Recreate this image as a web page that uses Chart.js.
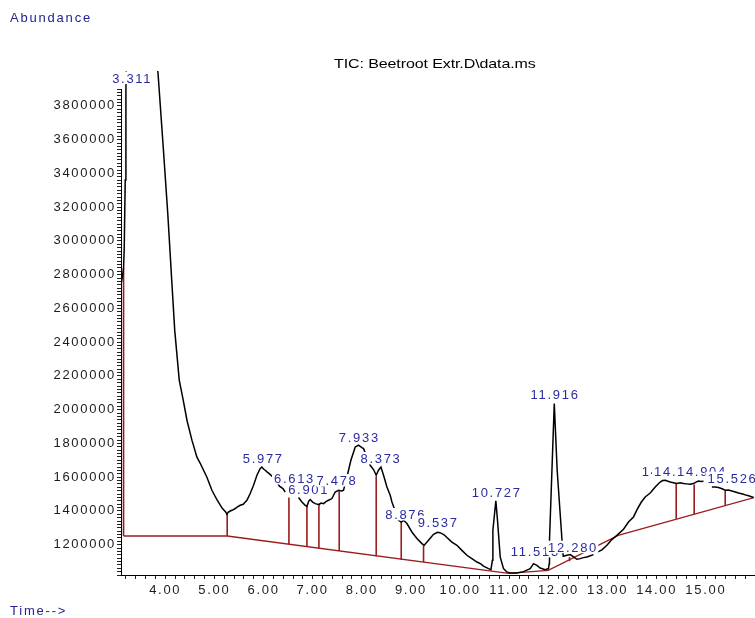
<!DOCTYPE html>
<html lang="en">
<head>
<meta charset="UTF-8">
<title>TIC: Beetroot Extr.D\data.ms</title>
<script src="https://cdn.jsdelivr.net/npm/chart.js"></script>
<style>
  body { margin: 0; background: #fff; overflow: hidden; }
  #wrap { position: relative; width: 755px; height: 618px; }
  canvas { position: absolute; left: 0; top: 0; }
  .txt { position: absolute; font-family: "Liberation Sans", Arial, sans-serif; white-space: nowrap; }
  .blue { color: #23238f; font-size: 13px; line-height: 13px; letter-spacing: 1.8px; }
  #title { left: 334px; top: 56px; font-size: 16px; line-height: 16px; color: #000; transform: scaleY(0.8); letter-spacing: -0.1px; }
</style>
</head>
<body>
<div id="wrap">
  <canvas id="tic" width="755" height="618"></canvas>
  <div class="txt blue" style="left:10px; top:11px;">Abundance</div>
  <div class="txt blue" style="left:10px; top:604px;">Time--&gt;</div>
  <div class="txt" id="title">TIC: Beetroot Extr.D\data.ms</div>
</div>

<script>
// total ion chromatogram (null = gap in the trace)
const traceTimes = [
  3.109, 3.130, 3.152, 3.166, 3.186, 3.200, 3.217, 3.311, 3.450, 3.620, 3.780, 3.853,
  3.959, 4.051, 4.132, 4.193, 4.285, 4.366, 4.442, 4.543, 4.645, 4.712, 4.848, 4.950,
  5.058, 5.160, 5.230, 5.255, 5.280, 5.322, 5.370, 5.424, 5.470, 5.526, 5.587, 5.620, 5.662, 5.729, 5.797, 5.866, 5.933,
  5.965, 6.000, 6.035, 6.069, 6.116, 6.218, 6.325, 6.394, 6.441, 6.550,
  6.712, 6.781, 6.848, 6.883, 6.920, 6.950, 7.000, 7.052, 7.127, 7.170, 7.221, 7.270, 7.323, 7.392, 7.459,
  7.526, 7.595, 7.628, 7.697, 7.778, 7.866, 7.933, 8.003, 8.035, 8.171, 8.238, 8.293,
  8.340, 8.389, 8.442, 8.511, 8.578, 8.613, 8.747, 8.802, 8.848, 8.918, 9.019, 9.121,
  9.223, 9.270, 9.357, 9.459, 9.540, 9.590, 9.630, 9.680, 9.732, 9.833, 9.935, 10.037, 10.138, 10.240,
  10.342, 10.420, 10.476, 10.578, 10.627, 10.657, 10.667, 10.727, 10.761, 10.816, 10.883, 10.952, 11.019,
  11.156, 11.290, 11.426, 11.494, 11.563, 11.630, 11.731, 11.798, 11.813, 11.819, 11.916, 11.975,
  12.071, 12.098, 12.173, 12.241, 12.308, 12.377, 12.444, 12.510, 12.580, 12.650, 12.714, 12.745,
  12.783, 12.885, 12.987, 13.074, 13.190, 13.325, 13.426, 13.528, 13.603, 13.685, 13.766, 13.868,
  13.970, 14.071, 14.120, 14.173, 14.274, 14.340, 14.411, 14.480, 14.545, 14.610, 14.681, 14.749, 14.800, 14.851, 14.900, 14.953, 15.050,
  15.123, 15.190, 15.257, 15.330, 15.394, 15.460, 15.530, 15.600, 15.664, 15.750, 15.835, 15.900, 15.970
];
const traceValues = [
  2756000, 2790000, 2839000, 2963000, 3361000, 3894000, 4191000, 6200000, 5600000, 4700000, 4150000, 3995000,
  3556000, 3165000, 2768000, 2471000, 2175000, 2056000, 1937000, 1819000, 1718000, 1682000, 1599000, 1522000,
  1463000, 1415000, 1394000, 1380000, 1392000, 1399000, 1405000, 1414000, 1424000, 1433000, 1439000, 1450000, 1463000, 1503000, 1552000, 1611000, 1651000,
  1660000, 1648000, 1641000, 1631000, 1621000, 1593000, 1546000, 1532000, 1512000, null,
  1479000, 1453000, 1433000, 1427000, 1457000, 1467000, 1452000, 1443000, 1437000, 1446000, 1443000, 1455000, 1463000, 1473000, 1512000,
  1522000, 1518000, 1522000, 1601000, 1700000, 1779000, 1789000, 1775000, 1769000, 1670000, 1645000, 1611000,
  1641000, 1660000, 1611000, 1542000, 1492000, 1453000, 1344000, 1334000, 1344000, 1325000, 1275000, 1236000,
  1206000, 1196000, 1226000, 1261000, 1273000, 1271000, 1265000, 1257000, 1242000, 1215000, 1196000, 1166000, 1137000, 1117000,
  1097000, 1086000, 1073000, 1058000, 1052000, 1107000, 1285000, 1459000, 1344000, 1127000, 1058000, 1038000, 1032000,
  1032000, 1040000, 1058000, 1087000, 1077000, 1061000, 1052000, 1058000, 1087000, 1226000, 2036000, 1641000,
  1236000, 1131000, 1137000, 1141000, 1127000, 1113000, 1117000, 1123000, 1127000, 1134000, 1141000, null,
  1154000, 1169000, 1196000, 1226000, 1255000, 1291000, 1334000, 1364000, 1409000, 1451000, 1482000, 1506000,
  1542000, 1571000, 1580000, 1581000, 1571000, 1567000, 1562000, 1566000, 1562000, 1560000, 1558000, 1562000, 1570000, 1577000, 1574000, 1575000, null,
  1542000, 1541000, 1538000, 1531000, 1522000, 1523000, 1518000, 1512000, 1506000, 1500000, 1492000, 1487000, 1479000
];

// integration baseline (red)
const baselineTimes  = [3.152, 5.261, 10.985, 11.793, 13.217, 15.980];
const baselineValues = [1251000, 1251000, 1030000, 1048000, 1255000, 1479000];

// drop lines from baseline up to the trace
const dropTimes   = [3.152, 5.261, 6.517, 6.883, 7.127, 7.540, 8.293, 8.802, 9.256, 12.226, 14.397, 14.763, 15.394];
const dropBottoms = [1251000, 1251000, 1202000, 1186000, 1180000, 1162000, 1131000, 1111000, 1097000, 1101000, 1354000, 1380000, 1433000];
const dropTops    = [2839000, 1386000, 1479000, 1427000, 1443000, 1522000, 1605000, 1334000, 1196000, 1127000, 1562000, 1556000, 1518000];

// peak labels: retention time, text, height of the label centre
const peakTimes  = [3.311, 5.977, 6.613, 6.901, 7.478, 7.933, 8.373, 8.876, 9.537, 10.727, 11.916, 11.513, 12.280, 14.187, 14.437, 14.904, 15.526];
const peakLabels = ['3.311', '5.977', '6.613', '6.901', '7.478', '7.933', '8.373', '8.876', '9.537', '10.727', '11.916', '11.513', '12.280', '14.187', '14.437', '14.904', '15.526'];
const peakLevels = [3966000, 1712000, 1593000, 1528000, 1581000, 1836000, 1712000, 1380000, 1334000, 1510000, 2092000, 1161000, 1186000, 1635000, 1635000, 1635000, 1595000];

const RED = '#9b1c1c';
const FONT = { family: '"Liberation Sans", Arial, sans-serif', size: 13 };

const traceData = traceTimes.map((t, i) => ({ x: t, y: traceValues[i] }));
const baselineData = baselineTimes.map((t, i) => ({ x: t, y: baselineValues[i] }));
const dropData = [];
dropTimes.forEach((t, i) => {
  dropData.push({ x: t, y: dropBottoms[i] }, { x: t, y: dropTops[i] }, { x: t, y: null });
});

// wider letter spacing like the instrument printout
const spacing = {
  id: 'spacing',
  beforeDraw(chart) { chart.ctx.letterSpacing = '1.7px'; }
};

// peak labels painted over an opaque box, later ones cover earlier ones
const peakText = {
  id: 'peakText',
  afterDraw(chart) {
    const ctx = chart.ctx;
    const xs = chart.scales.x, ys = chart.scales.y;
    ctx.save();
    ctx.font = '13px "Liberation Sans", Arial, sans-serif';
    ctx.letterSpacing = '1.7px';
    ctx.textAlign = 'left';
    ctx.textBaseline = 'alphabetic';
    peakTimes.forEach((t, i) => {
      const txt = peakLabels[i];
      const w = ctx.measureText(txt).width - 1.7;
      const cx = xs.getPixelForValue(t);
      const base = ys.getPixelForValue(peakLevels[i]) + 4.7;
      const left = cx - w / 2;
      ctx.fillStyle = '#fff';
      ctx.fillRect(left - 2, base - 11, w + 4, 12.5);
      ctx.fillStyle = '#2b2ba0';
      ctx.fillText(txt, left, base);
    });
    ctx.restore();
  }
};

new Chart(document.getElementById('tic').getContext('2d'), {
  type: 'line',
  data: {
    datasets: [
      { label: 'TIC', data: traceData, borderColor: '#000', borderWidth: 1.5, pointRadius: 0,
        tension: 0, spanGaps: false, clip: { left: 0, top: 18, right: 0, bottom: 0 } },
      { label: 'baseline', data: baselineData, borderColor: RED, borderWidth: 1.3, pointRadius: 0, tension: 0 },
      { label: 'drops', data: dropData, borderColor: RED, borderWidth: 1.6, pointRadius: 0, spanGaps: false }
    ]
  },
  options: {
    responsive: false,
    animation: false,
    events: [],
    layout: { padding: { top: 89, right: 1, left: 0, bottom: 0 } },
    plugins: { legend: { display: false }, tooltip: { enabled: false } },
    scales: {
      x: {
        type: 'linear', min: 3.1, max: 15.98,
        grid: { drawOnChartArea: false, tickLength: 4, tickColor: '#222' },
        border: { color: '#000', width: 1 },
        ticks: {
          stepSize: 0.2, includeBounds: false, autoSkip: false, maxRotation: 0, padding: 4,
          color: '#1c1c1c', font: FONT,
          callback: v => Math.abs(v - Math.round(v)) < 1e-6 ? v.toFixed(2) : ''
        },
        afterFit(s) { s.height = 43; }
      },
      y: {
        min: 1020000, max: 3900000,
        grid: { drawOnChartArea: false, tickLength: 4, tickColor: '#222' },
        border: { color: '#000', width: 1 },
        ticks: {
          stepSize: 20000, includeBounds: false, autoSkip: false, padding: 1,
          color: '#1c1c1c', font: FONT,
          callback: v => Math.round(v) % 200000 === 0 ? String(Math.round(v)) : ''
        },
        afterFit(s) { s.width = 121; }
      }
    }
  },
  plugins: [spacing, peakText]
});
</script>
</body>
</html>
